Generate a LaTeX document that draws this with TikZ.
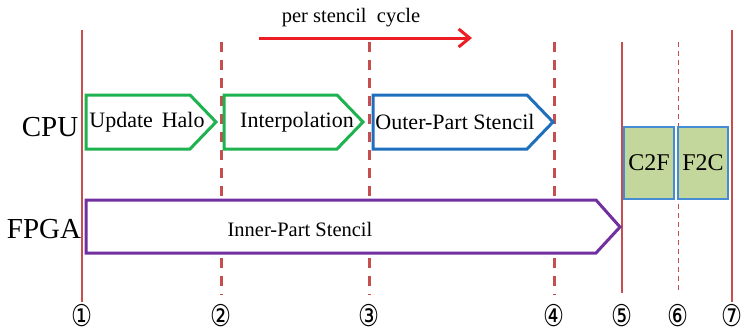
\documentclass[tikz,border=0pt]{standalone}
\usepackage{fontspec}
\setmainfont{Liberation Serif}
\newfontfamily\circfont{DejaVu Sans}
\usetikzlibrary{arrows.meta}

\definecolor{linered}{RGB}{198,78,78}
\definecolor{arrowred}{RGB}{236,30,36}
\definecolor{taskgreen}{RGB}{30,178,80}
\definecolor{taskblue}{RGB}{30,112,190}
\definecolor{taskpurple}{RGB}{112,48,160}
\definecolor{xferfill}{RGB}{195,214,155}
\definecolor{xferborder}{RGB}{70,140,210}

\newcommand{\tstamp}[1]{\scalebox{0.78}[1]{\circfont\fontsize{30}{30}\selectfont #1}}

\tikzset{
  solidmark/.style={draw=linered, line width=2.6pt},
  dashmark/.style={draw=linered, line width=3pt, dash pattern=on 10pt off 8pt},
  thinmark/.style={draw=linered, line width=1pt, dash pattern=on 5pt off 4pt},
  task/.style={fill=white, line width=3pt, line join=miter},
  tasklabel/.style={font=\fontsize{22}{22}\selectfont, inner sep=0pt},
  rowlabel/.style={font=\fontsize{29}{29}\selectfont, inner sep=0pt},
  xfer/.style={draw=xferborder, fill=xferfill, line width=1.4pt, minimum width=50pt, minimum height=72pt, inner sep=0pt, font=\fontsize{24}{24}\selectfont},
  stamp/.style={inner sep=0pt, anchor=base}
}

\begin{document}
\begin{tikzpicture}[x=1pt, y=-1pt]
\useasboundingbox (0,0) rectangle (743,332);

% time marks
\coordinate (m1t) at (82,30);  \coordinate (m1b) at (82,302);
\coordinate (m2t) at (221,42); \coordinate (m2b) at (221,295);
\coordinate (m3t) at (369,42); \coordinate (m3b) at (369,295);
\coordinate (m4t) at (554,42); \coordinate (m4b) at (554,295);
\coordinate (m5t) at (622,42); \coordinate (m5b) at (622,293);
\coordinate (m6t) at (678,42); \coordinate (m6b) at (678,293);
\coordinate (m7t) at (732,30); \coordinate (m7b) at (732,302);
\draw[solidmark] (m1t) -- (m1b);
\draw[dashmark] (m2t) -- (m2b);
\draw[dashmark] (m3t) -- (m3b);
\draw[dashmark] (m4t) -- (m4b);
\draw[solidmark] (m5t) -- (m5b);
\draw[thinmark] (m6t) -- (m6b);
\draw[solidmark] (m7t) -- (m7b);

% cycle arrow
\node[font=\fontsize{20.5}{20.5}\selectfont, inner sep=0pt] (cyc) at (351,18) {per stencil\ \ cycle};
\coordinate (ca) at (259,38);
\coordinate (cb) at (472,38);
\draw[draw=arrowred, line width=3pt, -{Straight Barb[length=11pt,width=18pt,line width=3pt]}] (ca) -- (cb);

% row labels
\node[rowlabel] (cpu) at (50,127) {CPU};
\node[rowlabel] (fpga) at (44,229) {FPGA};

% CPU tasks
\draw[task, draw=taskgreen] (86,95) -- (190,95) -- (216,122) -- (190,149) -- (86,149) -- cycle;
\node[tasklabel] (halo) at (147,122) {Update\hspace{0.4em}Halo};
\draw[task, draw=taskgreen] (224,95) -- (337,95) -- (363,122) -- (337,149) -- (224,149) -- cycle;
\node[tasklabel] (interp) at (297,122) {Interpolation};
\draw[task, draw=taskblue] (373,95) -- (527,95) -- (553,122) -- (527,149) -- (373,149) -- cycle;
\node[tasklabel] (outer) at (455,122) {Outer-Part Stencil};

% FPGA task
\draw[task, draw=taskpurple] (86,200) -- (596,200) -- (620,227) -- (596,253) -- (86,253) -- cycle;
\node[tasklabel, font=\fontsize{20.5}{20.5}\selectfont] (inner) at (300,229) {Inner-Part Stencil};

% transfers
\node[xfer] (c2f) at (649,163) {C2F};
\node[xfer] (f2c) at (703,163) {F2C};

% time stamps
\node[stamp] (s1) at (82,326) {\tstamp{①}};
\node[stamp] (s2) at (221,326) {\tstamp{②}};
\node[stamp] (s3) at (369,326) {\tstamp{③}};
\node[stamp] (s4) at (554,326) {\tstamp{④}};
\node[stamp] (s5) at (622,326) {\tstamp{⑤}};
\node[stamp] (s6) at (678,326) {\tstamp{⑥}};
\node[stamp] (s7) at (732,326) {\tstamp{⑦}};
\end{tikzpicture}
\end{document}
